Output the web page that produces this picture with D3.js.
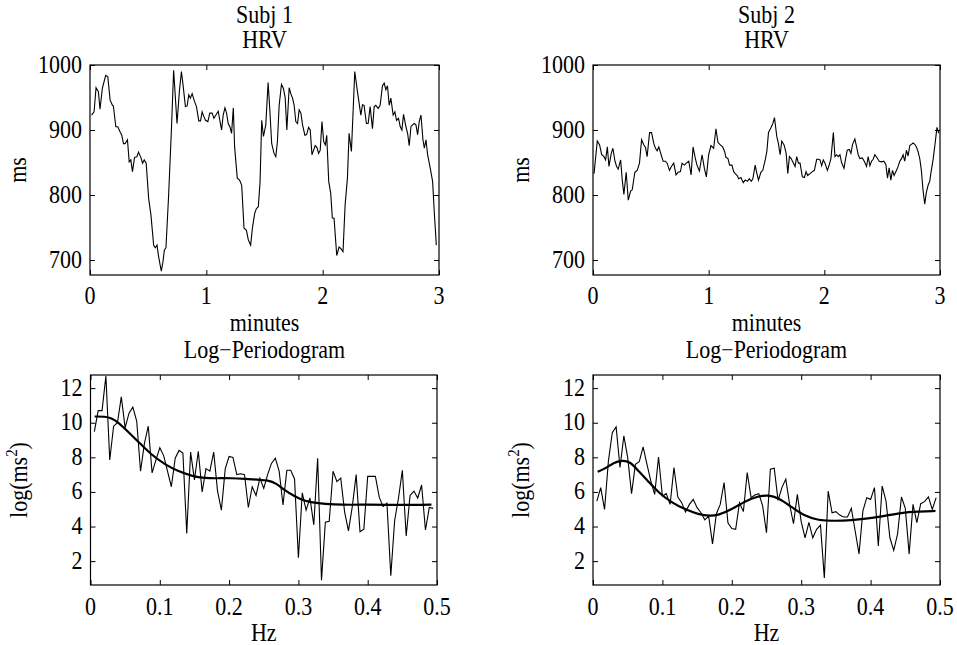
<!DOCTYPE html>
<html>
<head>
<meta charset="utf-8">
<script src="https://cdn.jsdelivr.net/npm/d3@7"></script>
<style>
  body { margin: 0; background: #fff; }
</style>
</head>
<body>
<svg id="fig" width="957" height="645"></svg>
<script>
// HRV traces, [minutes, ms]
const hrvTime1 = [0.014,0.035,0.052,0.072,0.086,0.106,0.135,0.153,0.173,0.193,
  0.201,0.222,0.239,0.259,0.273,0.288,0.302,0.322,0.337,0.351,
  0.365,0.383,0.403,0.417,0.437,0.452,0.466,0.483,0.504,0.524,
  0.547,0.561,0.576,0.590,0.613,0.627,0.639,0.653,0.676,0.699,
  0.719,0.748,0.768,0.786,0.800,0.820,0.835,0.849,0.863,0.878,
  0.898,0.915,0.935,0.950,0.964,0.978,0.993,1.013,1.030,1.050,
  1.065,1.085,1.102,1.113,1.131,1.145,1.160,1.174,1.188,1.203,
  1.217,1.232,1.243,1.266,1.286,1.304,1.324,1.344,1.361,1.381,
  1.396,1.416,1.430,1.447,1.462,1.476,1.491,1.511,1.531,1.545,
  1.562,1.582,1.597,1.611,1.626,1.646,1.663,1.678,1.692,1.712,
  1.726,1.741,1.755,1.769,1.784,1.798,1.813,1.827,1.847,1.862,
  1.879,1.893,1.908,1.922,1.936,1.951,1.965,1.979,1.994,2.009,
  2.023,2.035,2.052,
  2.069,2.083,2.098,2.121,2.141,2.155,2.175,2.193,2.213,2.227,
  2.247,2.276,2.299,2.328,2.342,2.356,2.376,2.391,2.408,2.428,
  2.443,2.457,2.477,2.494,2.514,2.529,2.543,2.557,2.572,2.586,
  2.606,2.621,2.635,2.652,2.667,2.681,2.695,2.716,2.730,2.744,
  2.759,2.773,2.787,2.802,2.816,2.830,2.845,2.862,2.874,2.888,
  2.902,2.925,2.945,2.960,2.977];
const hrv1 = [923,928,965,959,932,964,984,982,946,938,
  937,905,905,897,892,879,879,885,851,854,
  836,858,859,866,858,849,854,849,795,769,
  723,719,723,705,683,697,715,719,800,897,
  992,910,959,990,969,936,937,954,949,956,
  944,936,914,914,928,921,915,913,926,926,
  918,924,929,918,900,923,934,926,910,905,
  895,934,874,826,823,815,749,746,731,723,
  749,772,779,782,821,915,890,908,973,933,
  879,864,859,882,938,970,964,949,900,965,
  956,949,938,913,910,931,926,908,892,893,
  904,900,862,869,876,873,864,869,913,882,
  877,892,821,
  803,765,764,707,720,718,713,785,826,895,
  867,990,959,923,939,938,910,910,936,902,
  936,938,933,938,968,972,962,968,938,949,
  923,928,915,918,905,900,924,905,895,876,
  905,908,910,908,893,913,923,885,872,885,
  862,841,821,772,723];

const hrv2 = [[0.009,833],[0.037,883],[0.057,877],[0.075,862],[0.095,859],[0.109,854],[0.124,874],[0.138,844],
  [0.158,864],[0.172,872],[0.190,852],[0.204,844],[0.218,840],[0.239,854],[0.253,823],[0.267,801],
  [0.287,835],[0.305,792],[0.325,806],[0.339,808],[0.362,835],[0.382,838],[0.402,849],[0.420,885],
  [0.440,877],[0.454,873],[0.468,859],[0.489,896],[0.506,896],[0.526,879],[0.540,872],[0.555,868],
  [0.569,874],[0.589,862],[0.606,852],[0.626,852],[0.641,849],[0.661,838],[0.678,844],[0.698,849],
  [0.718,831],[0.736,835],[0.756,836],[0.770,849],[0.790,846],[0.807,849],[0.828,852],[0.848,831],
  [0.865,874],[0.885,856],[0.899,846],[0.920,837],[0.943,862],[0.963,841],[0.980,828],[1.000,862],
  [1.020,876],[1.043,872],[1.063,902],[1.080,881],[1.101,877],[1.121,874],[1.138,867],[1.149,858],
  [1.167,856],[1.181,846],[1.201,846],[1.216,836],[1.230,833],[1.247,830],[1.259,825],[1.279,827],
  [1.299,819],[1.316,823],[1.336,821],[1.351,825],[1.368,821],[1.382,825],[1.402,846],[1.417,833],
  [1.431,823],[1.451,835],[1.468,838],[1.489,854],[1.503,867],[1.517,896],[1.537,903],[1.555,910],
  [1.569,919],[1.589,890],[1.603,879],[1.618,862],[1.632,883],[1.652,877],[1.670,864],[1.684,833],
  [1.698,859],[1.713,856],[1.730,850],[1.747,844],[1.761,859],[1.776,849],[1.790,849],[1.810,828],
  [1.828,827],[1.842,836],[1.856,830],[1.876,833],[1.897,836],[1.914,838],[1.934,855],[1.948,855],
  [1.963,854],[1.977,845],[1.991,854],[2.006,849],[2.026,838],[2.040,845],[2.057,856],[2.078,896],
  [2.092,859],[2.106,862],[2.121,859],[2.135,862],[2.149,850],[2.170,841],[2.184,856],[2.198,869],
  [2.216,870],[2.230,864],[2.244,878],[2.264,886],[2.279,874],[2.293,862],[2.307,856],[2.328,857],
  [2.345,852],[2.365,844],[2.379,859],[2.394,845],[2.408,852],[2.422,855],[2.437,862],[2.457,857],
  [2.474,852],[2.494,851],[2.514,852],[2.532,847],[2.546,826],[2.560,842],[2.575,823],[2.589,838],
  [2.603,830],[2.624,838],[2.638,844],[2.652,852],[2.667,856],[2.681,862],[2.695,852],[2.710,869],
  [2.724,860],[2.739,876],[2.753,878],[2.767,880],[2.782,878],[2.796,874],[2.810,867],[2.825,856],
  [2.839,838],[2.853,808],[2.868,786],[2.882,804],[2.897,815],[2.911,821],[2.925,838],[2.940,854],
  [2.954,874],[2.974,904],[2.989,895]];

// log-periodograms at the Fourier frequencies k/180 Hz
const freq = d3.range(1, 90).map(k => k / 180);
const psd1 = [9.49,10.7,10.7,12.7,7.85,9.8,10.0,11.5,9.7,10.55,
  10.9,10.1,7.2,8.8,9.8,7.1,7.85,8.55,8.1,7.2,
  6.3,7.95,8.4,8.25,3.6,8.3,6.7,8.35,6.0,7.35,
  7.2,8.3,6.05,4.95,7.35,8.05,8.0,7.0,7.05,7.0,
  5.1,6.3,5.8,6.8,6.2,7.0,7.65,7.95,7.2,5.25,
  7.25,7.25,6.75,2.2,5.95,4.95,5.65,4.1,7.95,0.9,
  4.25,4.3,7.2,6.6,6.8,4.85,3.75,5.15,7.0,3.7,
  3.85,6.9,6.9,6.9,5.7,5.15,5.35,1.15,4.35,5.65,
  7.25,3.45,5.8,6.05,5.65,6.4,3.8,5.1,5.05];
const psd2 = [5.47,6.25,4.99,7.79,9.43,9.76,7.41,9.24,7.98,5.9,
  7.6,7.75,8.6,7.6,6.63,5.86,8.02,5.76,5.9,5.28,
  7.41,5.71,5.38,4.84,5.28,5.57,5.09,4.8,4.39,4.6,
  3.0,4.74,5.28,6.54,4.22,3.88,3.84,5.38,4.86,7.12,
  5.67,5.82,5.9,5.19,3.64,7.31,7.37,5.51,6.25,6.74,
  5.28,4.16,5.86,4.28,3.35,4.24,3.35,3.84,4.08,1.03,
  6.05,4.8,4.86,4.66,4.55,4.55,5.05,3.74,2.42,4.9,
  5.67,5.57,6.25,2.87,6.34,5.47,3.35,2.62,3.58,5.71,
  5.05,2.42,5.28,4.22,5.32,5.44,5.71,4.99,5.67];

// smoothed estimates
const smoothFreq1 = [0.006,0.021,0.030,0.040,0.054,0.069,0.088,0.107,0.126,0.146,0.165,0.184,0.203,
  0.223,0.242,0.256,0.268,0.280,0.295,0.309,0.328,0.352,0.376,0.400,0.424,0.472,0.492];
const smooth1 = [10.36,10.36,10.27,10.03,9.49,8.9,8.14,7.6,7.2,6.92,6.79,6.79,6.8,
  6.76,6.7,6.68,6.5,6.1,5.73,5.47,5.34,5.28,5.25,5.27,5.25,5.24,5.27];
const smoothFreq2 = [0.0067,0.0177,0.0297,0.0417,0.0537,0.0656,0.080,0.0944,0.1136,0.1327,0.1519,0.1687,
  0.1806,0.1998,0.219,0.2381,0.2525,0.2669,0.286,0.3052,0.3244,0.3484,0.3723,0.3963,0.4202,0.4442,0.4681,0.4935];
const smooth2 = [7.17,7.35,7.7,7.83,7.75,7.2,6.6,5.96,5.38,4.99,4.7,4.6,
  4.66,4.99,5.47,5.76,5.82,5.67,5.13,4.6,4.36,4.32,4.36,4.47,4.6,4.8,4.86,4.9];

const hrvTicks = [0, 1, 2, 3];
const msTicks = [700, 800, 900, 1000];
const hzTicks = [0, 0.1, 0.2, 0.3, 0.4, 0.5];
const logTicks = [2, 4, 6, 8, 10, 12];

const FONT = "'Liberation Serif'";
const fs = 22;
const SY = 1.1;  // reference text is a bit taller than plain Times
const svg = d3.select('#fig');

// text helper: x,y is the anchor/baseline point
function label(x, y, txt, anchor, rot) {
  return svg.append('text')
    .attr('transform', 'translate(' + x + ',' + y + ')' + (rot ? ' rotate(' + rot + ')' : '') + ' scale(1,' + SY + ')')
    .attr('text-anchor', anchor || 'middle')
    .style('font-family', FONT).style('font-size', fs + 'px')
    .attr('fill', '#000')
    .text(txt);
}

function panel(box, xDom, yDom, xTicks, yTicks, xFmt, xLabY) {
  const x = d3.scaleLinear().domain(xDom).range([box.l, box.r]);
  const y = d3.scaleLinear().domain(yDom).range([box.b, box.t]);
  const g = svg.append('g');
  g.append('rect').attr('x', box.l).attr('y', box.t)
    .attr('width', box.r - box.l).attr('height', box.b - box.t)
    .attr('fill', 'none').attr('stroke', '#000').attr('stroke-width', 1.2);

  const axes = [
    [d3.axisBottom(x).tickValues(xTicks), 'translate(0,' + box.b + ')'],
    [d3.axisTop(x).tickValues(xTicks), 'translate(0,' + box.t + ')'],
    [d3.axisLeft(y).tickValues(yTicks), 'translate(' + box.l + ',0)'],
    [d3.axisRight(y).tickValues(yTicks), 'translate(' + box.r + ',0)']
  ];
  axes.forEach(function(a) {
    const ag = g.append('g').attr('transform', a[1])
      .call(a[0].tickSizeInner(-5).tickSizeOuter(0).tickFormat(''));
    ag.select('.domain').remove();
    ag.selectAll('text').remove();
    ag.selectAll('line').attr('stroke', '#000').attr('stroke-width', 1);
  });

  xTicks.forEach(t => label(x(t), xLabY, xFmt(t)));
  yTicks.forEach(t => label(box.l - 8, y(t) + 7.5, String(t), 'end'));
  return {x: x, y: y, g: g};
}

const boxes = [
  {l: 90, r: 439, t: 65, b: 275},
  {l: 593, r: 940, t: 65, b: 275},
  {l: 90.5, r: 437, t: 375, b: 585},
  {l: 593, r: 940, t: 375, b: 585}
];

const hrvPairs1 = hrvTime1.map((t, i) => [t, hrv1[i]]);
[hrvPairs1, hrv2].forEach(function(series, i) {
  const b = boxes[i];
  const p = panel(b, [0, 3], [677, 1000], hrvTicks, msTicks, d3.format('d'), 304);
  p.g.append('path').datum(series)
    .attr('d', d3.line().x(d => p.x(d[0])).y(d => p.y(d[1])))
    .attr('fill', 'none').attr('stroke', '#000').attr('stroke-width', 1.1);
  const cx = (b.l + b.r) / 2;
  label(cx, 23, 'Subj ' + (i + 1));
  label(cx, 48, 'HRV');
  label(cx, 331, 'minutes');
  label(cx, 358, 'Log\u2212Periodogram');
  label(b.l - 64, (b.t + b.b) / 2, 'ms', 'middle', -90);
});

[[psd1, smoothFreq1, smooth1], [psd2, smoothFreq2, smooth2]].forEach(function(s, i) {
  const b = boxes[i + 2];
  const p = panel(b, [0, 0.5], [0.62, 12.76], hzTicks, logTicks, d => d === 0 ? '0' : d3.format('.1f')(d), 615);
  p.g.append('path').datum(s[0])
    .attr('d', d3.line().x((d, k) => p.x(freq[k])).y(d => p.y(d)))
    .attr('fill', 'none').attr('stroke', '#000').attr('stroke-width', 1.1);
  p.g.append('path').datum(s[2])
    .attr('d', d3.line().curve(d3.curveBasis).x((d, k) => p.x(s[1][k])).y(d => p.y(d)))
    .attr('fill', 'none').attr('stroke', '#000').attr('stroke-width', 2.2);
  const cx = (b.l + b.r) / 2;
  label(cx, 641, 'Hz');
  const yl = label(b.l - 64, (b.t + b.b) / 2, '', 'middle', -90);
  yl.append('tspan').text('log(ms');
  yl.append('tspan').style('font-size', '15px').attr('dy', -9).text('2');
  yl.append('tspan').attr('dy', 9).text(')');
});
</script>
</body>
</html>
